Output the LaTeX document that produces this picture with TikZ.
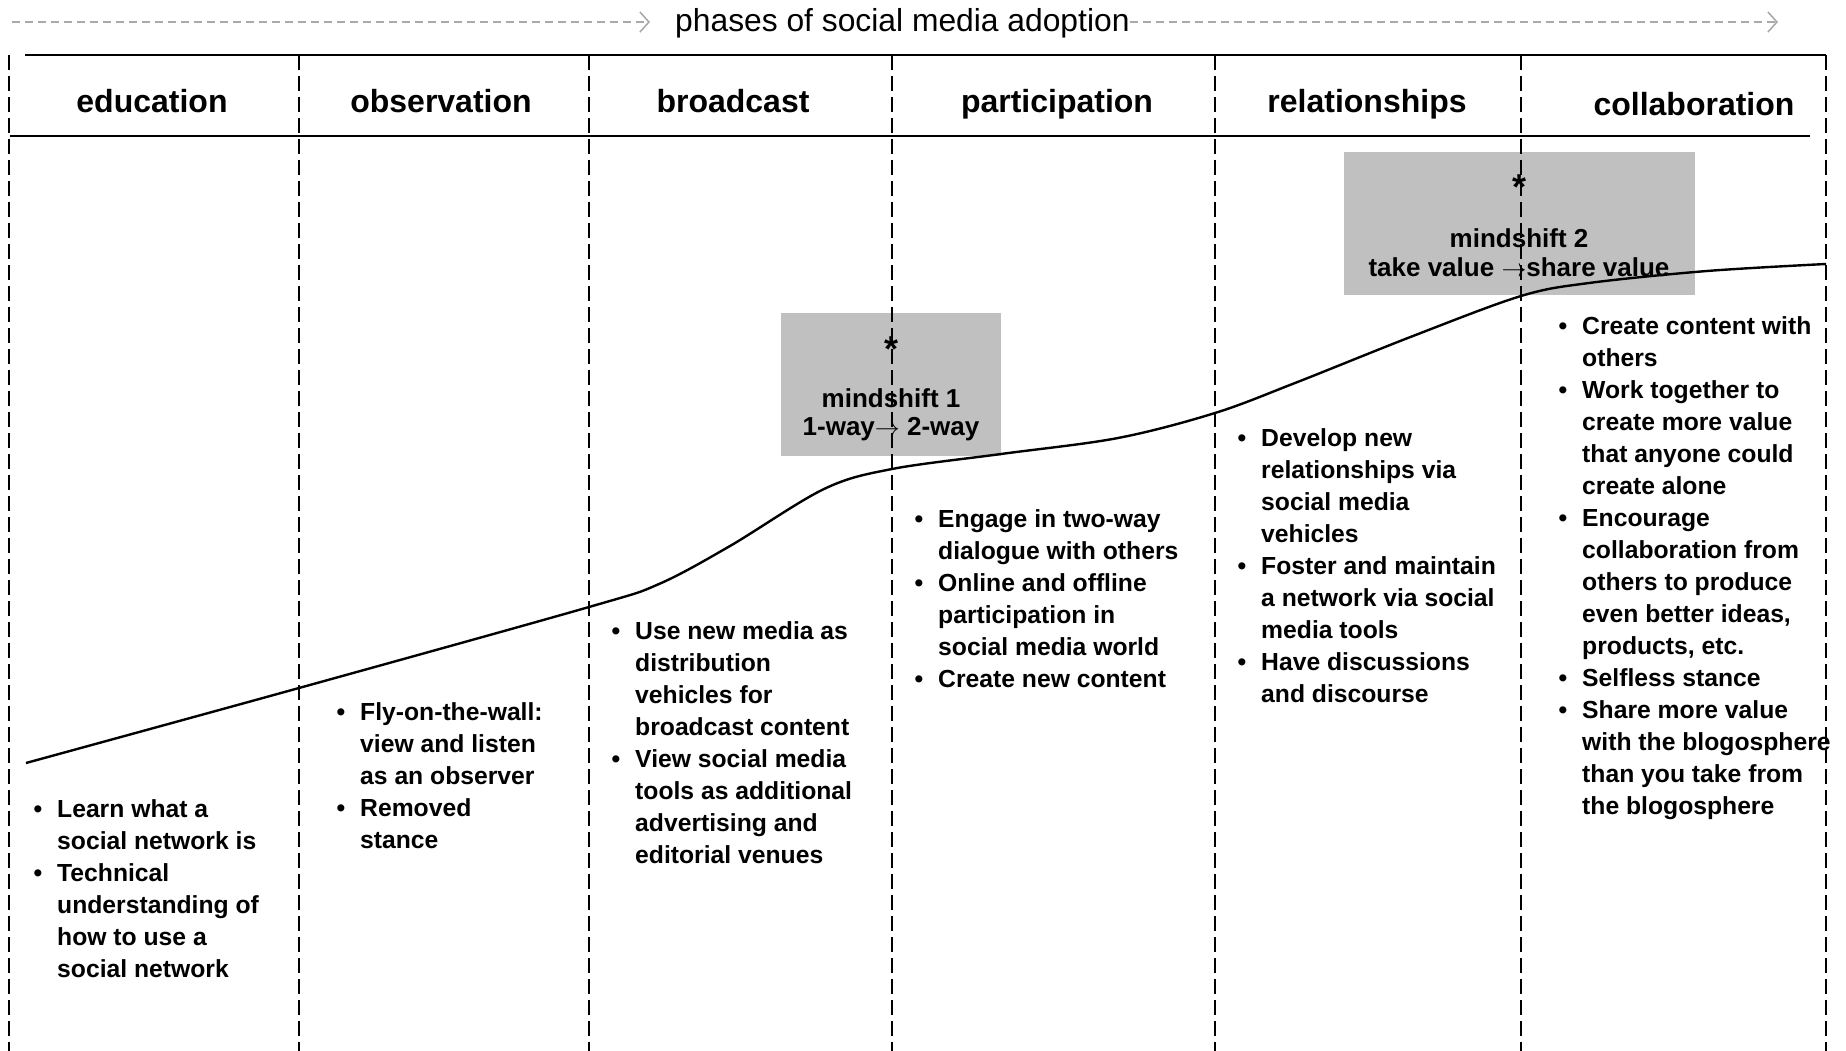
\documentclass[tikz,border=0pt]{standalone}
\usepackage{fontspec}
\setmainfont{Liberation Sans}
\usetikzlibrary{arrows.meta}
\definecolor{msgray}{RGB}{192,192,192}
\definecolor{arrowgray}{RGB}{170,170,170}
\newcommand{\bul}{\llap{•\hspace{15pt}}}
\begin{document}
\begin{tikzpicture}[x=1pt,y=-1pt,
  vline/.style={line width=2pt, dash pattern=on 15pt off 6pt},
  hline/.style={line width=2.4pt},
  titlearrow/.style={arrowgray, line width=1.6pt, dash pattern=on 8pt off 5pt,
    -{Straight Barb[length=9pt,width=20pt,line width=1.6pt]}},
  title/.style={font=\fontsize{31.8}{36}\selectfont, inner sep=0, anchor=base west},
  head/.style={font=\fontsize{32}{38}\selectfont\bfseries, anchor=base, inner sep=0},
  body/.style={font=\fontsize{24.7}{32}\selectfont\bfseries, align=left, anchor=north west, inner sep=0},
  msbox/.style={fill=msgray, draw=none, inner sep=0},
  mstext/.style={font=\fontsize{26}{29}\selectfont\bfseries, anchor=base, inner sep=0},
  msstar/.style={font=\fontsize{36}{40}\selectfont\bfseries, anchor=base, inner sep=0},
  curve/.style={line width=2.4pt}
]
\useasboundingbox (0,0) rectangle (1846,1051);

% title arrow
\node[title] (title) at (675,32) {phases of social media adoption};
\coordinate (ta0) at (12,22);
\coordinate (ta1) at (650,22);
\coordinate (ta2) at (1778,22);
\draw[titlearrow] (ta0) -- (ta1);
\draw[titlearrow] (title.east |- ta2) -- (ta2);

% mindshift boxes (behind lines)
\node[msbox, minimum width=220pt, minimum height=143pt] (ms1) at (891,384.5) {};
\node[msbox, minimum width=351pt, minimum height=143pt] (ms2) at (1519,223.5) {};

% header lines
\draw[hline] (25,55) -- (1826,55);
\draw[hline] (10,136) -- (1810,136);

% vertical dashed lines
\foreach \xx in {9,299,589,892,1215,1521,1826}
  \draw[vline] (\xx,55) -- (\xx,1051);

% headers
\node[head] (h1) at (152,113) {education};
\node[head] (h2) at (441,113) {observation};
\node[head] (h3) at (733,113) {broadcast};
\node[head] (h4) at (1057,113) {participation};
\node[head] (h5) at (1367,113) {relationships};
\node[head] (h6) at (1694,116) {collaboration};

% curve
\draw[curve] plot[smooth, tension=0.55] coordinates {
  (26,763) (299,688) (589,607) (659,584) (730,546) (824,489) (892,469)
  (1001,454) (1118,438) (1215,413) (1295,383) (1413,336) (1521,296)
  (1589,283) (1707,271) (1826,264)};

% mindshift texts
\node[msstar] (ms1a) at (891,361) {*};
\node[mstext] (ms1b) at (891,407) {mindshift 1};
\node[mstext] (ms1c) at (891,435) {1-way$\rightarrow$ 2-way};
\node[msstar] (ms2a) at (1519,200) {*};
\node[mstext] (ms2b) at (1519,247) {mindshift 2};
\node[mstext] (ms2c) at (1519,276) {take value $\rightarrow$share value};

% column texts
\node[body] (t1) at (57,799) {\bul Learn what a\\ social network is\\ \bul Technical\\ understanding of\\ how to use a\\ social network};
\node[body] (t2) at (360,702) {\bul Fly-on-the-wall:\\ view and listen\\ as an observer\\ \bul Removed\\ stance};
\node[body] (t3) at (635,621) {\bul Use new media as\\ distribution\\ vehicles for\\ broadcast content\\ \bul View social media\\ tools as additional\\ advertising and\\ editorial venues};
\node[body] (t4) at (938,509) {\bul Engage in two-way\\ dialogue with others\\ \bul Online and offline\\ participation in\\ social media world\\ \bul Create new content};
\node[body] (t5) at (1261,428) {\bul Develop new\\ relationships via\\ social media\\ vehicles\\ \bul Foster and maintain\\ a network via social\\ media tools\\ \bul Have discussions\\ and discourse};
\node[body] (t6) at (1582,316) {\bul Create content with\\ others\\ \bul Work together to\\ create more value\\ that anyone could\\ create alone\\ \bul Encourage\\ collaboration from\\ others to produce\\ even better ideas,\\ products, etc.\\ \bul Selfless stance\\ \bul Share more value\\ with the blogosphere\\ than you take from\\ the blogosphere};
\end{tikzpicture}
\end{document}
